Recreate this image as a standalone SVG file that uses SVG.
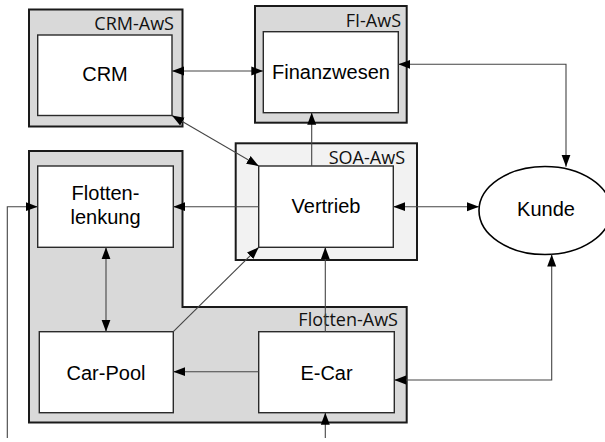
<svg xmlns="http://www.w3.org/2000/svg" width="605" height="442" viewBox="0 0 605 442">
<style>
.cont{fill:#d9d9d9;stroke:#1a1a1a;stroke-width:2}
.soa{fill:#f2f2f2;stroke:#1a1a1a;stroke-width:2}
.box{fill:#ffffff;stroke:#2a2a2a;stroke-width:1.4}
.lbl{font-family:"Liberation Sans",Arial,sans-serif;font-size:20px;fill:#000;text-anchor:middle}
.cl{font-family:"Open Sans","Noto Sans",sans-serif;font-size:18px;fill:#111;text-anchor:end}
.con{fill:none;stroke:#444;stroke-width:1.1}
</style>
<defs>
<marker id="ah" markerUnits="userSpaceOnUse" markerWidth="12" markerHeight="10" refX="12" refY="4.5" orient="auto-start-reverse" viewBox="0 0 12 9">
<path d="M0,0 L12,4.5 L0,9 Z" fill="#000"/>
</marker>
</defs>
<g id="crm-aws"><rect class="cont" x="29" y="9.5" width="153.5" height="117"/><text class="cl" x="174" y="30">CRM-AwS</text></g>
<g id="fi-aws"><rect class="cont" x="255" y="6" width="151.7" height="116.7"/><text class="cl" x="401" y="27">FI-AwS</text></g>
<g id="soa-aws"><rect class="soa" x="235.7" y="143.3" width="181.3" height="116.7"/><text class="cl" x="405" y="163.5">SOA-AwS</text></g>
<g id="flotten-aws"><path class="cont" d="M29,151 H182.5 V307 H406.7 V422.5 H29 Z"/><text class="cl" x="398" y="326">Flotten-AwS</text></g>
<g id="crm"><rect class="box" x="37.7" y="35" width="134.3" height="80.5"/><text class="lbl" x="105" y="81">CRM</text></g>
<g id="finanzwesen"><rect class="box" x="263.3" y="31.7" width="135" height="81"/><text class="lbl" x="331" y="78.5">Finanzwesen</text></g>
<g id="vertrieb"><rect class="box" x="258.7" y="166" width="134.6" height="81.3"/><text class="lbl" x="326" y="213">Vertrieb</text></g>
<g id="flottenlenkung"><rect class="box" x="37.7" y="166" width="135.6" height="81.3"/><text class="lbl" x="105.5" y="199.5">Flotten-</text><text class="lbl" x="105.5" y="223.5">lenkung</text></g>
<g id="car-pool"><rect class="box" x="39.3" y="331.7" width="134" height="81"/><text class="lbl" x="106" y="379.5">Car-Pool</text></g>
<g id="e-car"><rect class="box" x="258.7" y="331.7" width="135.6" height="81"/><text class="lbl" x="326.5" y="379.5">E-Car</text></g>
<g id="kunde"><ellipse cx="545" cy="210.5" rx="66" ry="44" fill="#fff" stroke="#000" stroke-width="1.6"/><text class="lbl" x="546" y="216">Kunde</text></g>
<g id="connectors">
<line class="con" x1="172" y1="71" x2="263.3" y2="71" marker-start="url(#ah)" marker-end="url(#ah)"/>
<path class="con" d="M398.3,64.3 H566 V166.7" marker-start="url(#ah)" marker-end="url(#ah)"/>
<line class="con" x1="172" y1="115.5" x2="258.7" y2="166" marker-start="url(#ah)" marker-end="url(#ah)"/>
<line class="con" x1="311.7" y1="166" x2="311.7" y2="112.7" marker-end="url(#ah)"/>
<line class="con" x1="258.7" y1="206.7" x2="173.3" y2="206.7" marker-end="url(#ah)"/>
<line class="con" x1="393.3" y1="206.7" x2="479" y2="206.7" marker-start="url(#ah)" marker-end="url(#ah)"/>
<line class="con" x1="106" y1="247.3" x2="106" y2="331.7" marker-start="url(#ah)" marker-end="url(#ah)"/>
<line class="con" x1="173.3" y1="331.7" x2="258.7" y2="247.3" marker-end="url(#ah)"/>
<line class="con" x1="258.7" y1="371.7" x2="173.3" y2="371.7" marker-end="url(#ah)"/>
<line class="con" x1="325.3" y1="331.7" x2="325.3" y2="247.3" marker-end="url(#ah)"/>
<line class="con" x1="325.3" y1="438" x2="325.3" y2="412.7" marker-end="url(#ah)"/>
<path class="con" d="M551.7,254.5 V380 H394.3" marker-start="url(#ah)" marker-end="url(#ah)"/>
<path class="con" d="M7.3,438 V206.7 H37.7" marker-end="url(#ah)"/>
</g>
</svg>
